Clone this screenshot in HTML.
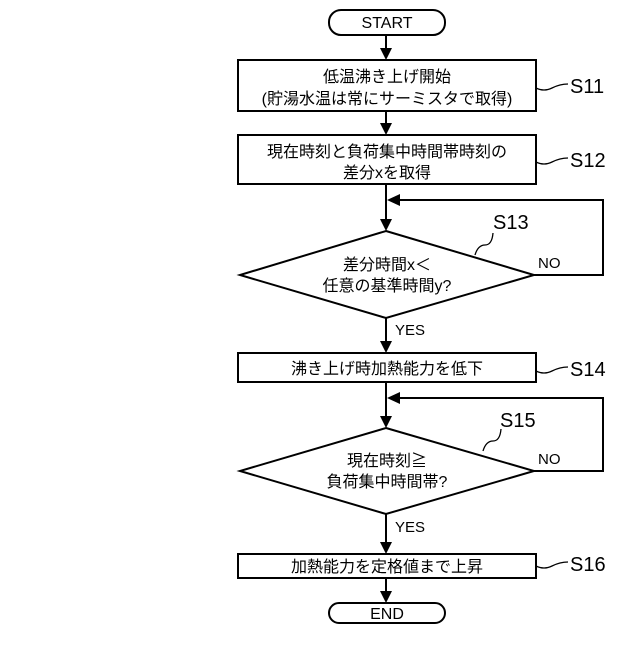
<!DOCTYPE html>
<html><head><meta charset="utf-8"><style>
html,body{margin:0;padding:0;background:#fff;}
svg text{font-family:"Liberation Sans","Noto Sans CJK JP",sans-serif;fill:#000;}
</style></head><body>
<svg width="640" height="640" viewBox="0 0 640 640" xmlns="http://www.w3.org/2000/svg">
<g stroke="#000" stroke-width="2" fill="none">
<rect x="329" y="10" width="116" height="25" rx="12"/>
<line x1="386" y1="35" x2="386" y2="52"/>
<rect x="238" y="60" width="298" height="51"/>
<line x1="386" y1="111" x2="386" y2="127"/>
<rect x="238" y="135" width="298" height="49"/>
<line x1="386" y1="184" x2="386" y2="223"/>
<polygon points="386,231 534,275 386,318 240,275"/>
<polyline points="534,275 603,275 603,200 396,200"/>
<line x1="386" y1="318" x2="386" y2="345"/>
<rect x="238" y="353" width="298" height="29"/>
<line x1="386" y1="382" x2="386" y2="420"/>
<polygon points="386,428 534,471 386,514 240,471"/>
<polyline points="534,471 603,471 603,398 396,398"/>
<line x1="386" y1="514" x2="386" y2="546"/>
<rect x="238" y="554" width="298" height="24"/>
<line x1="386" y1="578" x2="386" y2="595"/>
<rect x="329" y="603" width="116" height="20" rx="10"/>
<g stroke-width="1.3">
<path d="M536,88 q8,4 16,0 t16,-4"/>
<path d="M536,162 q8,4 16,0 t16,-4"/>
<path d="M536,371 q8,4 16,0 t16,-4"/>
<path d="M536,566 q8,4 16,0 t16,-4"/>
<path d="M475,255 q3,-10 10,-10 t8,-12"/>
<path d="M483,451 q3,-10 10,-10 t8,-12"/>
</g></g>
<g fill="#000">
<polygon points="380,48 392,48 386,60"/>
<polygon points="380,123 392,123 386,135"/>
<polygon points="380,219 392,219 386,231"/>
<polygon points="380,341 392,341 386,353"/>
<polygon points="380,416 392,416 386,428"/>
<polygon points="380,542 392,542 386,554"/>
<polygon points="380,591 392,591 386,603"/>
<polygon points="387,200 400,194 400,206"/>
<polygon points="387,398 400,392 400,404"/>
</g>
<g font-size="16" text-anchor="middle">
<text x="387" y="28">START</text>
<text x="387" y="82">低温沸き上げ開始</text>
<text x="387" y="104">(貯湯水温は常にサーミスタで取得)</text>
<text x="387" y="157">現在時刻と負荷集中時間帯時刻の</text>
<text x="387" y="178">差分xを取得</text>
<text x="387" y="270">差分時間x＜</text>
<text x="387" y="291">任意の基準時間y?</text>
<text x="387" y="374">沸き上げ時加熱能力を低下</text>
<text x="387" y="466">現在時刻≧</text>
<text x="387" y="487">負荷集中時間帯?</text>
<text x="387" y="572">加熱能力を定格値まで上昇</text>
<text x="387" y="619">END</text>
</g>
<g font-size="15">
<text x="538" y="268">NO</text><text x="538" y="464">NO</text>
<text x="395" y="335">YES</text><text x="395" y="532">YES</text>
</g>
<g font-size="20">
<text x="570" y="93">S11</text><text x="570" y="167">S12</text>
<text x="493" y="229">S13</text><text x="570" y="376">S14</text>
<text x="500" y="427">S15</text><text x="570" y="571">S16</text>
</g>
</svg>
</body></html>
